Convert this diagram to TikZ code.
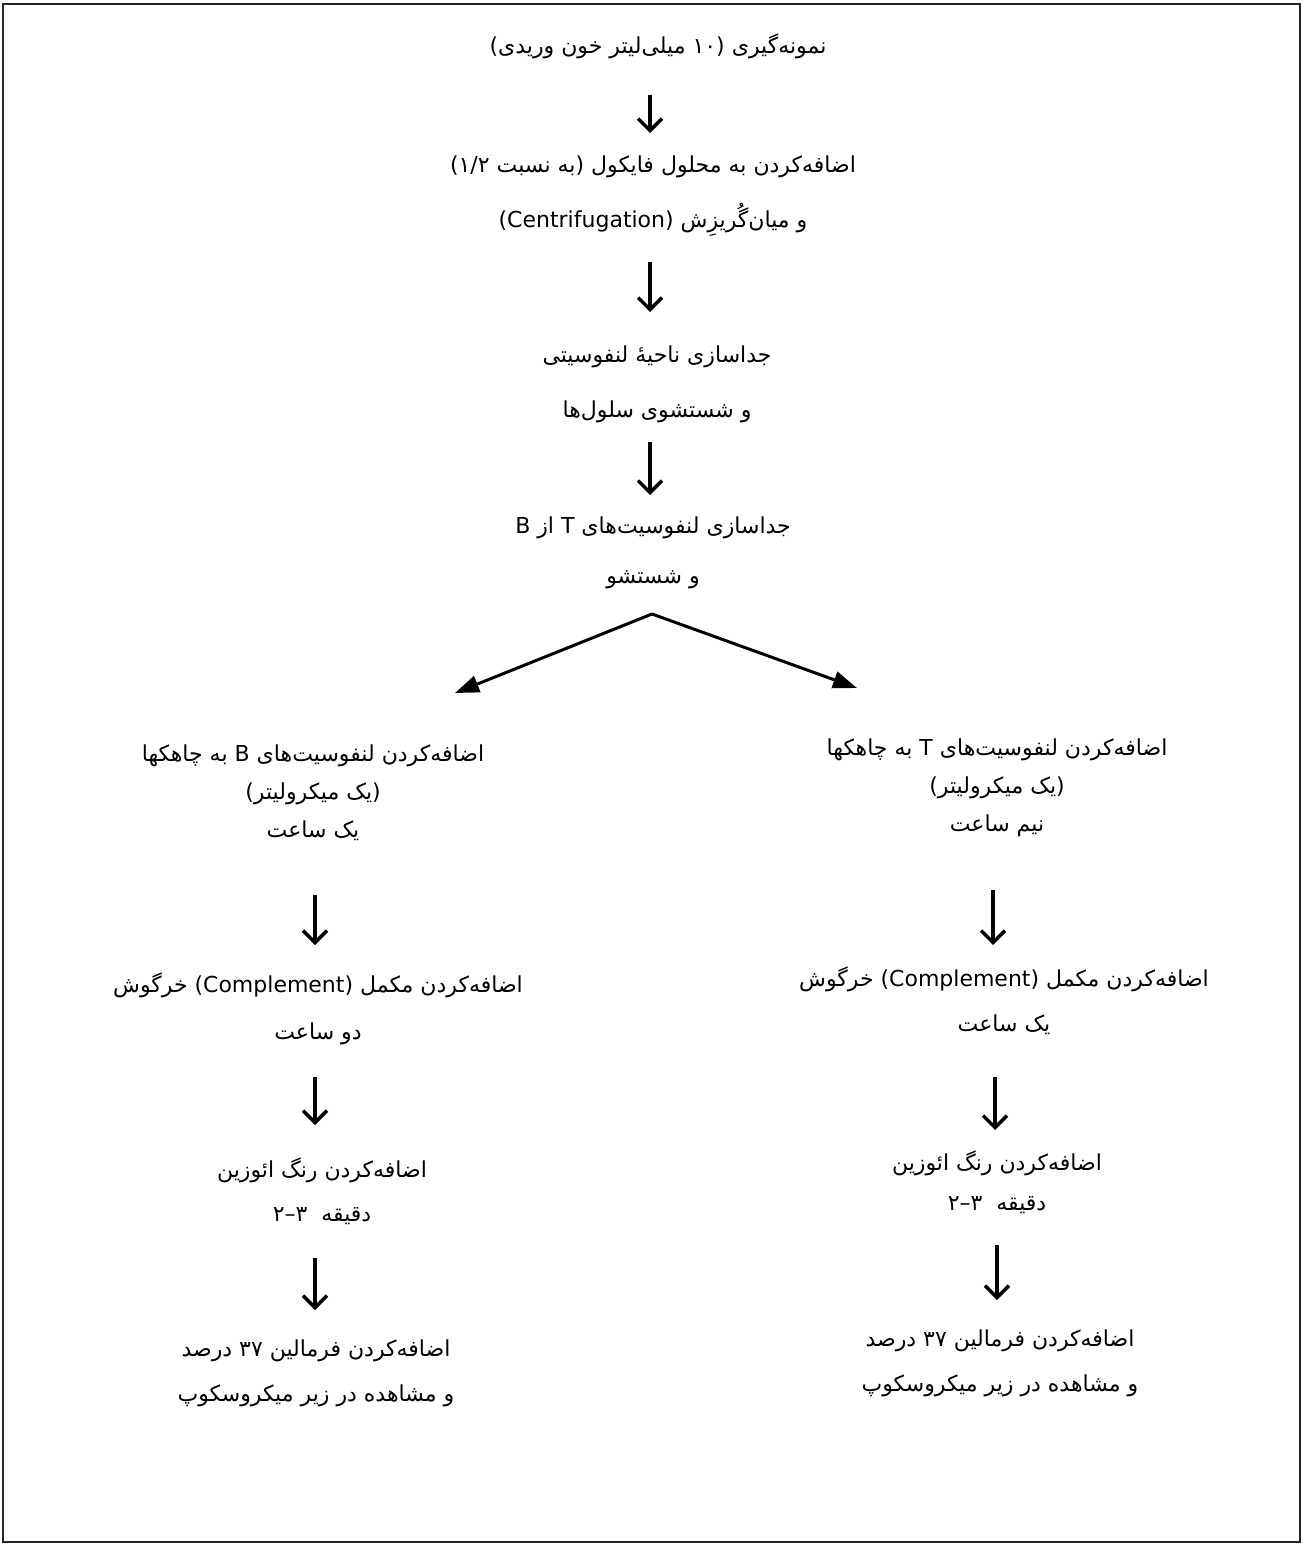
\documentclass[tikz,border=0pt]{standalone}
\usepackage{fontspec}
\usetikzlibrary{arrows.meta}
\TeXXeTstate=1
\newfontfamily\fa[Script=Arabic]{DejaVu Sans}
\newfontfamily\lat{DejaVu Sans}
\newcommand\RL[1]{\beginR#1\endR}
\newcommand\LR[1]{\beginL{#1}\endL{}}
\newcommand\LT[1]{\beginL{\lat #1}\endL{}}
\newcommand\OP{\beginL{(}\endL{}}
\newcommand\CP{\beginL{)}\endL{}}
\tikzset{
  blk/.style={font=\fa\fontsize{22}{#1}\selectfont, align=center, inner sep=0pt, anchor=center},
  varrow/.style={line width=3.4pt, -{Straight Barb[length=12pt, width=24pt, line width=3.4pt]}},
  darrow/.style={line width=3pt, -{Triangle[length=24pt, width=17pt]}},
  frame/.style={line width=1.6pt, draw=black!85}
}
\begin{document}
\begin{tikzpicture}[x=1pt,y=-1pt]
\useasboundingbox (0,0) rectangle (1303,1546);
\fill[white] (0,0) rectangle (1303,1546);
\draw[frame] (3,4) rectangle (1300,1542);

\node[blk=30] (n1) at (658,46) {\RL{نمونه‌گیری \OP\LR{۱۰} میلی‌لیتر خون وریدی\CP}};
\node[blk=55] (n2) at (653,196) {\RL{اضافه‌کردن به محلول فایکول \OP به نسبت \LR{۱/۲}\CP}\\
  \RL{و میان‌گُریزِش \LT{(Centrifugation)}}};
\node[blk=55] (n3) at (657,384) {\RL{جداسازی ناحیهٔ لنفوسیتی}\\ \RL{و شستشوی سلول‌ها}};
\node[blk=50] (n4) at (653,553) {\RL{جداسازی لنفوسیت‌های \LT{T} از \LT{B}}\\ \RL{و شستشو}};

\node[blk=38] (L1) at (313,793) {\RL{اضافه‌کردن لنفوسیت‌های \LT{B} به چاهکها}\\ \RL{\OP یک میکرولیتر\CP}\\ \RL{یک ساعت}};
\node[blk=38] (R1) at (997,788) {\RL{اضافه‌کردن لنفوسیت‌های \LT{T} به چاهکها}\\ \RL{\OP یک میکرولیتر\CP}\\ \RL{نیم ساعت}};

\node[blk=47] (L2) at (318,1009) {\RL{اضافه‌کردن مکمل \LT{(Complement)} خرگوش}\\ \RL{دو ساعت}};
\node[blk=45] (R2) at (1004,1001) {\RL{اضافه‌کردن مکمل \LT{(Complement)} خرگوش}\\ \RL{یک ساعت}};

\node[blk=44] (L3) at (322,1191) {\RL{اضافه‌کردن رنگ ائوزین}\\ \RL{دقیقه\ \ \LR{۳–۲}}};
\node[blk=40] (R3) at (997,1182) {\RL{اضافه‌کردن رنگ ائوزین}\\ \RL{دقیقه\ \ \LR{۳–۲}}};

\node[blk=45] (L4) at (316,1373) {\RL{اضافه‌کردن فرمالین \LR{۳۷} درصد}\\ \RL{و مشاهده در زیر میکروسکوپ}};
\node[blk=45] (R4) at (1000,1363) {\RL{اضافه‌کردن فرمالین \LR{۳۷} درصد}\\ \RL{و مشاهده در زیر میکروسکوپ}};

\draw[varrow] ([shift={(-8,49)}]n1.center) -- ([shift={(-3,-63)}]n2.center);
\draw[varrow] ([shift={(-3,66)}]n2.center) -- ([shift={(-7,-72)}]n3.center);
\draw[varrow] ([shift={(-7,58)}]n3.center) -- ([shift={(-3,-58)}]n4.center);
\coordinate (fork) at ([shift={(-1,61)}]n4.center);
\draw[darrow] (fork) -- ([shift={(142,-100)}]L1.center);
\draw[darrow] (fork) -- ([shift={(-140,-100)}]R1.center);

\draw[varrow] ([shift={(2,102)}]L1.center) -- ([shift={(-3,-64)}]L2.center);
\draw[varrow] ([shift={(-3,68)}]L2.center) -- ([shift={(-7,-66)}]L3.center);
\draw[varrow] ([shift={(-7,67)}]L3.center) -- ([shift={(-1,-63)}]L4.center);

\draw[varrow] ([shift={(-4,102)}]R1.center) -- ([shift={(-11,-56)}]R2.center);
\draw[varrow] ([shift={(-9,76)}]R2.center) -- ([shift={(-2,-52)}]R3.center);
\draw[varrow] ([shift={(0,63)}]R3.center) -- ([shift={(-3,-63)}]R4.center);
\end{tikzpicture}
\end{document}
